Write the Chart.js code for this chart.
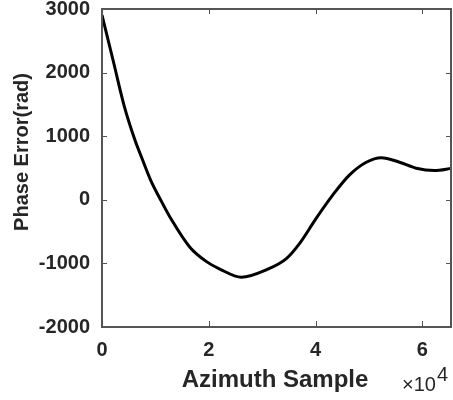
<!DOCTYPE html>
<html lang="en">
<head>
    <meta charset="UTF-8">
    <title>Phase Error</title>
    <style>
        html, body { margin: 0; padding: 0; background: #fff; }
        #chart { display: block; }
    </style>
    <script src="https://cdn.jsdelivr.net/npm/chart.js"></script>
</head>
<body>
    <canvas id="chart" width="453" height="400"></canvas>
    <script>
        // values
        const sampleIdx = [0, 2243, 4112, 6168, 7607, 9103, 10972, 13028, 16449, 19570, 22056, 26112, 30790, 34520, 37010, 40130, 43230, 46360, 49480, 52280, 55700, 58820, 62240, 65536];
        const phaseErr = [2905, 2135, 1490, 940, 626, 311, 0, -315, -745, -972, -1089, -1218, -1100, -925, -685, -287, 78, 392, 591, 663, 591, 497, 459, 497];
        const xTicks = [0, 20000, 40000, 60000];
        const yTicks = [-2000, -1000, 0, 1000, 2000, 3000];

        const textColor = '#262626';
        const axisColor = '#555555';
        const fontFamily = 'Arial, "Liberation Sans", sans-serif';

        // box + inward tick marks + titles, like a matlab axes
        const axesDecor = {
            id: 'axesDecor',
            afterDraw(chart) {
                const ctx = chart.ctx;
                const xs = chart.scales.x, ys = chart.scales.y;
                const L = Math.round(xs.left), R = Math.round(xs.right) - 2;
                const T = Math.round(ys.top), B = Math.round(ys.bottom) - 1;
                const w = 2, len = 5;
                ctx.save();
                ctx.fillStyle = axisColor;
                ctx.fillRect(L - 1, T - 1, R - L + w + 1, w);
                ctx.fillRect(L - 1, B, R - L + w + 1, w);
                ctx.fillRect(L - 1, T - 1, w, B - T + w + 1);
                ctx.fillRect(R, T - 1, w, B - T + w + 1);
                xTicks.forEach(v => {
                    const px = Math.round(xs.getPixelForValue(v));
                    ctx.fillRect(px, B - len, 1, len);
                    ctx.fillRect(px, T, 1, len);
                });
                yTicks.forEach(v => {
                    const py = Math.round(ys.getPixelForValue(v));
                    ctx.fillRect(L, py, len, 1);
                    ctx.fillRect(R - len + 1, py, len, 1);
                });

                ctx.fillStyle = textColor;
                ctx.font = 'bold 20px ' + fontFamily;
                ctx.textAlign = 'center';
                ctx.textBaseline = 'middle';
                ctx.translate(22, 152);
                ctx.rotate(-Math.PI / 2);
                ctx.fillText('Phase Error(rad)', 0, 0);
                ctx.setTransform(1, 0, 0, 1, 0, 0);

                ctx.font = 'bold 24px ' + fontFamily;
                ctx.textBaseline = 'alphabetic';
                ctx.fillText('Azimuth Sample', 275, 387);

                ctx.font = '20px ' + fontFamily;
                ctx.textAlign = 'left';
                ctx.fillText('\u00d710', 402, 391);
                ctx.fillText('4', 437, 381);
                ctx.restore();
            }
        };

        new Chart(document.getElementById('chart'), {
            type: 'line',
            data: {
                datasets: [{
                    data: sampleIdx.map((x, i) => ({ x: x, y: phaseErr[i] })),
                    borderColor: '#000',
                    borderWidth: 3,
                    pointRadius: 0,
                    fill: false,
                    cubicInterpolationMode: 'monotone'
                }]
            },
            options: {
                responsive: false,
                animation: false,
                devicePixelRatio: 1,
                layout: { padding: { top: 9, right: 1, left: 0, bottom: 0 } },
                plugins: { legend: { display: false }, tooltip: { enabled: false } },
                scales: {
                    x: {
                        type: 'linear',
                        min: 0,
                        max: 65536,
                        grid: { display: false, drawTicks: false },
                        border: { display: false },
                        afterBuildTicks: s => { s.ticks = xTicks.map(v => ({ value: v })); },
                        afterFit: s => {
                            s.height = 73;
                            s.paddingLeft = 0; s.paddingRight = 0;
                        },
                        ticks: {
                            callback: v => String(v / 10000),
                            color: textColor,
                            font: { family: fontFamily, size: 20, weight: 'bold' },
                            padding: 11,
                            maxRotation: 0,
                            autoSkip: false
                        }
                    },
                    y: {
                        min: -2000,
                        max: 3000,
                        grid: { display: false, drawTicks: false },
                        border: { display: false },
                        afterBuildTicks: s => { s.ticks = yTicks.map(v => ({ value: v })); },
                        afterFit: s => {
                            s.width = 102;
                            s.paddingTop = 0; s.paddingBottom = 0;
                        },
                        ticks: {
                            callback: v => String(v),
                            color: textColor,
                            font: { family: fontFamily, size: 20, weight: 'bold' },
                            padding: 12,
                            autoSkip: false
                        }
                    }
                }
            },
            plugins: [axesDecor]
        });
    </script>
</body>
</html>
